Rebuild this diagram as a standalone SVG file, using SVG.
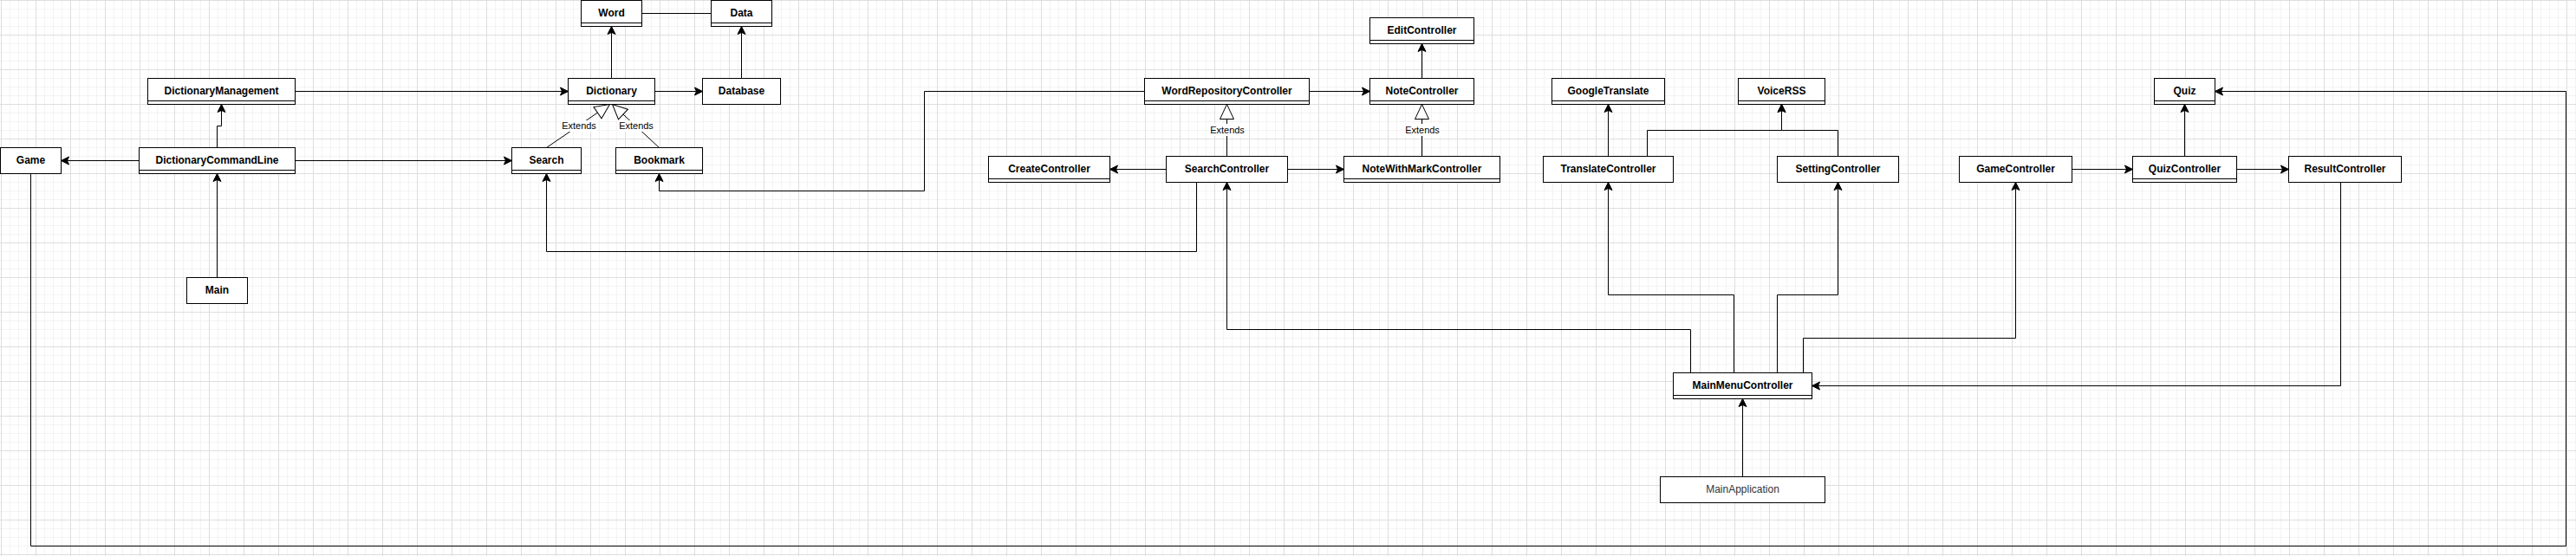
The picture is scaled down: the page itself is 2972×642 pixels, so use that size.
<svg xmlns="http://www.w3.org/2000/svg" width="2972" height="642" viewBox="0 0 2972 642">
<style>
.box{fill:#ffffff;stroke:#000000;stroke-width:1}
.div{stroke:#000000;stroke-width:1;fill:none}
.name{font-family:"Liberation Sans",Arial,Helvetica,sans-serif;font-size:12px;font-weight:bold;fill:#000000;text-anchor:middle}
.plain{font-family:"Liberation Sans",Arial,Helvetica,sans-serif;font-size:12px;font-weight:normal;fill:#333333;text-anchor:middle}
.edge{fill:none;stroke:#000000;stroke-width:1}
.arr{marker-end:url(#arrow)}
.ext{marker-end:url(#hollow)}
.lbl{font-family:"Liberation Sans",Arial,Helvetica,sans-serif;font-size:11px;fill:#000000;text-anchor:middle}
.lblbg{fill:#ffffff;stroke:none}
</style>
<defs>
<pattern id="grid" patternUnits="userSpaceOnUse" x="1" y="0" width="40" height="40">
<rect x="0" y="0" width="40" height="40" fill="#ffffff"/>
<path d="M10.5 0V40M20.5 0V40M30.5 0V40M0 10.5H40M0 20.5H40M0 30.5H40" stroke="#f3f3f3" stroke-width="1" fill="none"/>
<path d="M0.5 0V40M0 0.5H40" stroke="#dedede" stroke-width="1" fill="none"/>
</pattern>
<marker id="arrow" markerUnits="userSpaceOnUse" markerWidth="20" markerHeight="20" viewBox="-20 -10 20 20" refX="0" refY="0" orient="auto" overflow="visible">
<path d="M0,0 L-9,-4.5 L-7,0 L-9,4.5 Z" fill="#000000" stroke="#000000" stroke-width="1" stroke-linejoin="miter"/>
</marker>
<marker id="hollow" markerUnits="userSpaceOnUse" markerWidth="40" markerHeight="40" viewBox="-20 -20 40 40" refX="0" refY="0" orient="auto" overflow="visible">
<path d="M0,0 L-17,-8 L-17,8 Z" fill="#ffffff" stroke="#000000" stroke-width="1"/>
</marker>
</defs>
<rect x="0" y="0" width="2972" height="642" fill="url(#grid)"/>

<g id="connectors">
<path class="edge arr" d="M340.5,105.5 H655.5"/>
<path class="edge arr" d="M250.5,170.5 V145.5 H255.5 V120.5"/>
<path class="edge arr" d="M160.5,185.5 H70.5"/>
<path class="edge arr" d="M340.5,185.5 H590.5"/>
<path class="edge arr" d="M250.5,320.5 V200.5"/>
<path class="edge arr" d="M705.5,90.5 V30.5"/>
<path class="edge" d="M740.5,15.5 H820.5"/>
<path class="edge arr" d="M855.5,90.5 V30.5"/>
<path class="edge arr" d="M755.5,105.5 H810.5"/>
<path class="edge ext" d="M630.5,170.5 L703.5,120.5"/>
<path class="edge ext" d="M760.5,170.5 L706.5,120.5"/>
<path class="edge arr" d="M1320.5,105.5 H1066.5 V220.5 H760.5 V200.5"/>
<path class="edge arr" d="M1380.5,210.5 V290.5 H630.5 V200.5"/>
<path class="edge arr" d="M1510.5,105.5 H1580.5"/>
<path class="edge arr" d="M1640.5,90.5 V50.5"/>
<path class="edge ext" d="M1415.5,180.5 V120.5"/>
<path class="edge ext" d="M1640.5,180.5 V120.5"/>
<path class="edge arr" d="M1345.5,195.5 H1280.5"/>
<path class="edge arr" d="M1485.5,195.5 H1550.5"/>
<path class="edge arr" d="M1855.5,180.5 V120.5"/>
<path class="edge arr" d="M1900.5,180.5 V150.5 H2055.5 V120.5"/>
<path class="edge arr" d="M2120.5,180.5 V150.5 H2055.5 V120.5"/>
<path class="edge arr" d="M2390.5,195.5 H2460.5"/>
<path class="edge arr" d="M2580.5,195.5 H2640.5"/>
<path class="edge arr" d="M2520.5,180.5 V120.5"/>
<path class="edge arr" d="M35.5,200.5 V630.5 H2960.5 V105.5 H2555.5"/>
<path class="edge arr" d="M2700.5,210.5 V445.5 H2090.5"/>
<path class="edge arr" d="M1950.5,430.5 V380.5 H1415.5 V210.5"/>
<path class="edge arr" d="M2000.5,430.5 V340.5 H1855.5 V210.5"/>
<path class="edge arr" d="M2050.5,430.5 V340.5 H2120.5 V210.5"/>
<path class="edge arr" d="M2080.5,430.5 V390.5 H2325.5 V210.5"/>
<path class="edge arr" d="M2010.5,550.5 V460.5"/>
<rect class="lblbg" x="647" y="139" width="42" height="13"/>
<text class="lbl" x="668" y="148.5">Extends</text>
<rect class="lblbg" x="713" y="139" width="42" height="13"/>
<text class="lbl" x="734" y="148.5">Extends</text>
<rect class="lblbg" x="1395" y="143" width="42" height="14"/>
<text class="lbl" x="1416" y="153.8">Extends</text>
<rect class="lblbg" x="1620" y="143" width="42" height="14"/>
<text class="lbl" x="1641" y="153.8">Extends</text>
</g>

<g id="DictionaryManagement"><rect class="box" x="170.5" y="90.5" width="170" height="30"/><path class="div" d="M170.5,116.5 H340.5"/><text class="name" x="255.5" y="108.5">DictionaryManagement</text></g>
<g id="Game"><rect class="box" x="0.5" y="170.5" width="70" height="30"/><text class="name" x="35.5" y="189">Game</text></g>
<g id="DictionaryCommandLine"><rect class="box" x="160.5" y="170.5" width="180" height="30"/><path class="div" d="M160.5,196.5 H340.5"/><text class="name" x="250.5" y="188.5">DictionaryCommandLine</text></g>
<g id="Main"><rect class="box" x="215.5" y="320.5" width="70" height="30"/><text class="name" x="250.5" y="339">Main</text></g>
<g id="Word"><rect class="box" x="670.5" y="0.5" width="70" height="30"/><path class="div" d="M670.5,26.5 H740.5"/><text class="name" x="705.5" y="18.5">Word</text></g>
<g id="Data"><rect class="box" x="820.5" y="0.5" width="70" height="30"/><path class="div" d="M820.5,26.5 H890.5"/><text class="name" x="855.5" y="18.5">Data</text></g>
<g id="Dictionary"><rect class="box" x="655.5" y="90.5" width="100" height="30"/><path class="div" d="M655.5,116.5 H755.5"/><text class="name" x="705.5" y="108.5">Dictionary</text></g>
<g id="Database"><rect class="box" x="810.5" y="90.5" width="90" height="30"/><text class="name" x="855.5" y="109">Database</text></g>
<g id="Search"><rect class="box" x="590.5" y="170.5" width="80" height="30"/><path class="div" d="M590.5,196.5 H670.5"/><text class="name" x="630.5" y="188.5">Search</text></g>
<g id="Bookmark"><rect class="box" x="710.5" y="170.5" width="100" height="30"/><path class="div" d="M710.5,196.5 H810.5"/><text class="name" x="760.5" y="188.5">Bookmark</text></g>
<g id="EditController"><rect class="box" x="1580.5" y="20.5" width="120" height="30"/><path class="div" d="M1580.5,46.5 H1700.5"/><text class="name" x="1640.5" y="38.5">EditController</text></g>
<g id="WordRepositoryController"><rect class="box" x="1320.5" y="90.5" width="190" height="30"/><path class="div" d="M1320.5,116.5 H1510.5"/><text class="name" x="1415.5" y="108.5">WordRepositoryController</text></g>
<g id="NoteController"><rect class="box" x="1580.5" y="90.5" width="120" height="30"/><path class="div" d="M1580.5,116.5 H1700.5"/><text class="name" x="1640.5" y="108.5">NoteController</text></g>
<g id="CreateController"><rect class="box" x="1140.5" y="180.5" width="140" height="30"/><path class="div" d="M1140.5,206.5 H1280.5"/><text class="name" x="1210.5" y="198.5">CreateController</text></g>
<g id="SearchController"><rect class="box" x="1345.5" y="180.5" width="140" height="30"/><text class="name" x="1415.5" y="199">SearchController</text></g>
<g id="NoteWithMarkController"><rect class="box" x="1550.5" y="180.5" width="180" height="30"/><path class="div" d="M1550.5,206.5 H1730.5"/><text class="name" x="1640.5" y="198.5">NoteWithMarkController</text></g>
<g id="GoogleTranslate"><rect class="box" x="1790.5" y="90.5" width="130" height="30"/><path class="div" d="M1790.5,116.5 H1920.5"/><text class="name" x="1855.5" y="108.5">GoogleTranslate</text></g>
<g id="VoiceRSS"><rect class="box" x="2005.5" y="90.5" width="100" height="30"/><path class="div" d="M2005.5,116.5 H2105.5"/><text class="name" x="2055.5" y="108.5">VoiceRSS</text></g>
<g id="TranslateController"><rect class="box" x="1780.5" y="180.5" width="150" height="30"/><text class="name" x="1855.5" y="199">TranslateController</text></g>
<g id="SettingController"><rect class="box" x="2050.5" y="180.5" width="140" height="30"/><text class="name" x="2120.5" y="199">SettingController</text></g>
<g id="Quiz"><rect class="box" x="2485.5" y="90.5" width="70" height="30"/><path class="div" d="M2485.5,116.5 H2555.5"/><text class="name" x="2520.5" y="108.5">Quiz</text></g>
<g id="GameController"><rect class="box" x="2260.5" y="180.5" width="130" height="30"/><text class="name" x="2325.5" y="199">GameController</text></g>
<g id="QuizController"><rect class="box" x="2460.5" y="180.5" width="120" height="30"/><path class="div" d="M2460.5,206.5 H2580.5"/><text class="name" x="2520.5" y="198.5">QuizController</text></g>
<g id="ResultController"><rect class="box" x="2640.5" y="180.5" width="130" height="30"/><text class="name" x="2705.5" y="199">ResultController</text></g>
<g id="MainMenuController"><rect class="box" x="1930.5" y="430.5" width="160" height="30"/><path class="div" d="M1930.5,456.5 H2090.5"/><text class="name" x="2010.5" y="448.5">MainMenuController</text></g>
<g id="MainApplication"><rect class="box" x="1915.5" y="550.5" width="190" height="30"/><text class="plain" x="2010.5" y="569">MainApplication</text></g>
</svg>
